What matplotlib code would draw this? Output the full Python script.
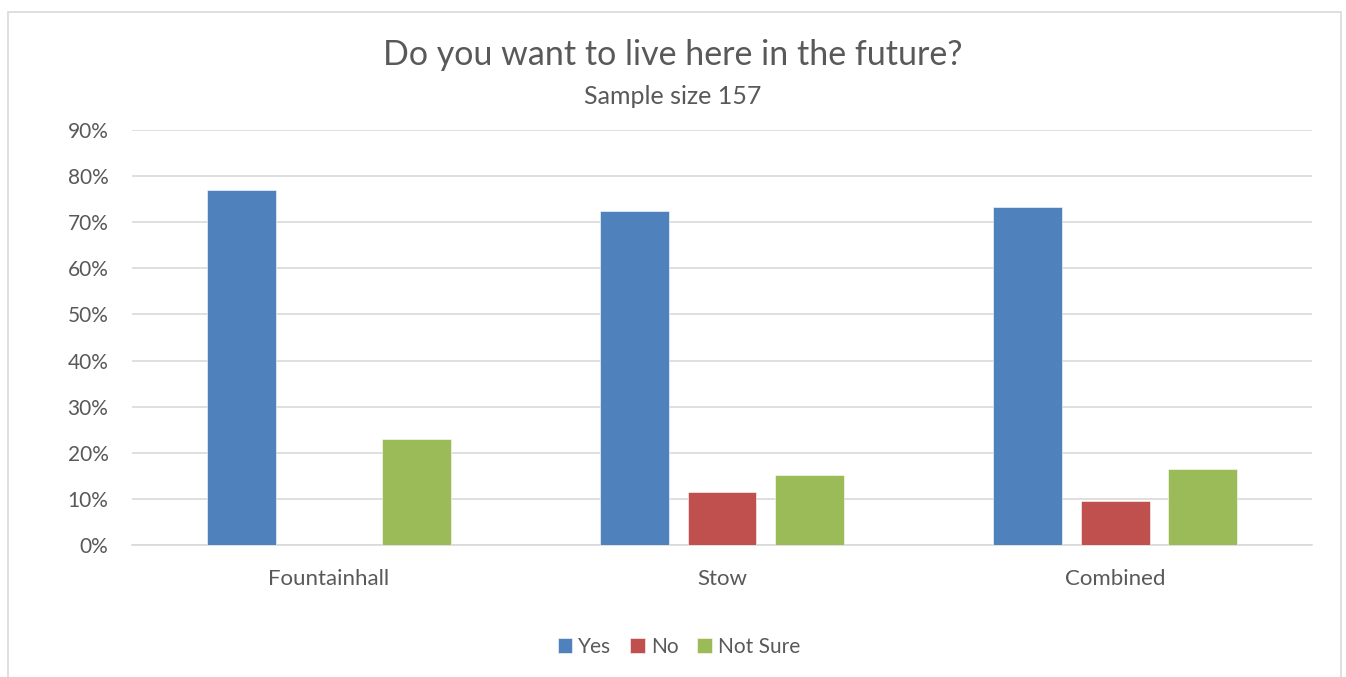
import matplotlib.pyplot as plt
import numpy as np
from matplotlib.patches import Rectangle
from matplotlib.ticker import PercentFormatter

plt.rcParams['font.family'] = ['Lato', 'DejaVu Sans']

# Data
categories = ["Fountainhall", "Stow", "Combined"]
series_names = ["Yes", "No", "Not Sure"]
yes_vals = [0.769, 0.724, 0.732]
no_vals = [0.0, 0.114, 0.095]
not_sure_vals = [0.229, 0.152, 0.165]
y_ticks = [0.0, 0.1, 0.2, 0.3, 0.4, 0.5, 0.6, 0.7, 0.8, 0.9]

colors = ["#4F81BD", "#C0504D", "#9BBB59"]
text_col = "#595959"
grid_col = "#D9D9D9"

fig = plt.figure(figsize=(13.46, 6.77), dpi=100)
ax = fig.add_axes([132 / 1346, 1 - 545 / 677, (1312 - 132) / 1346, (545 - 130) / 677])

# outer chart border
fig.patches.append(Rectangle((8 / 1346, -0.02), (1341 - 8) / 1346, (677 - 12) / 677 + 0.02,
                             transform=fig.transFigure, fill=False,
                             edgecolor=grid_col, linewidth=1.2))

x = np.arange(len(categories))
width = 0.175
pitch = 0.2225
for i, (vals, name) in enumerate(zip([yes_vals, no_vals, not_sure_vals], series_names)):
    ax.bar(x + (i - 1) * pitch, vals, width, color=colors[i], label=name,
           edgecolor="white", linewidth=0.4, zorder=3)

ax.set_xlim(-0.5, len(categories) - 0.5)
ax.set_ylim(0, 0.9)
ax.set_yticks(y_ticks)
ax.yaxis.set_major_formatter(PercentFormatter(1.0, decimals=0))
ax.set_xticks(x)
ax.set_xticklabels(categories)
ax.tick_params(axis="both", length=0, colors=text_col)
ax.tick_params(axis="x", pad=17, labelsize=16)
ax.tick_params(axis="y", pad=17, labelsize=15)
ax.grid(axis="y", color=grid_col, linewidth=1.2, zorder=0)
for s in ["top", "right", "left"]:
    ax.spines[s].set_visible(False)
ax.spines["bottom"].set_color(grid_col)
ax.spines["bottom"].set_linewidth(1.2)

fig.text(0.5, 1 - 55 / 677, "Do you want to live here in the future?", ha="center",
         va="center", fontsize=24.5, color=text_col)
fig.text(0.5, 1 - 97 / 677, "Sample size 157", ha="center", va="center",
         fontsize=18, color=text_col)

fig.legend(loc="center", bbox_to_anchor=(679 / 1346, 1 - 647 / 677), ncol=3, frameon=False,
           fontsize=15, labelcolor=text_col, handlelength=0.7, handleheight=0.7,
           handletextpad=0.3, columnspacing=0.9)

fig.savefig("out.png", dpi=100)
